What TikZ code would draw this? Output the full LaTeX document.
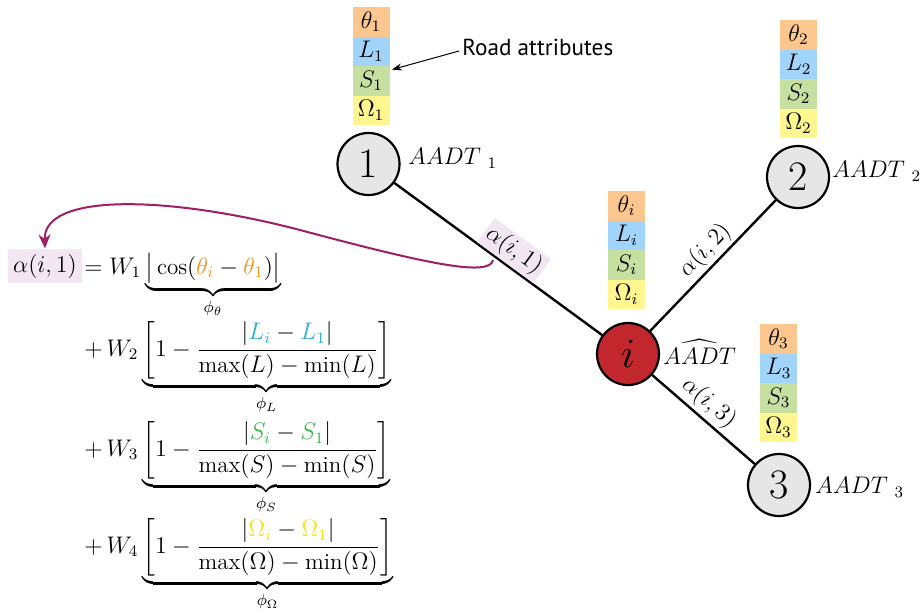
\documentclass[tikz,border=0pt]{standalone}
\usepackage{amsmath}
\usepackage{fontspec}
\newfontfamily\roadfont{PT Sans}
\usetikzlibrary{arrows.meta,calc}
\definecolor{cOr}{RGB}{251,199,142}
\definecolor{cBl}{RGB}{160,212,250}
\definecolor{cGr}{RGB}{197,224,160}
\definecolor{cYe}{RGB}{255,246,143}
\definecolor{tOr}{RGB}{247,148,29}
\definecolor{tBl}{RGB}{41,171,226}
\definecolor{tGr}{RGB}{57,181,74}
\definecolor{tYe}{RGB}{250,225,20}
\definecolor{cRed}{RGB}{193,39,45}
\definecolor{cGray}{RGB}{230,230,230}
\definecolor{cPur}{RGB}{158,31,99}
\definecolor{cPurL}{RGB}{242,230,242}
\newcommand\attrstack[4]{%
  \node[attr,fill=cOr] (t#1) at ({#2},{#3+14.75}) {$\theta_{#4}$};
  \node[attr,fill=cBl] (l#1) at ({#2},{#3+44.25}) {$L_{#4}$};
  \node[attr,fill=cGr] (s#1) at ({#2},{#3+73.75}) {$S_{#4}$};
  \node[attr,fill=cYe] (o#1) at ({#2},{#3+103.25}) {$\Omega_{#4}$};
}
\begin{document}
\begin{tikzpicture}[x=0.5pt,y=-0.5pt,font=\fontsize{11.5}{13.5}\selectfont,
  city/.style={circle,draw=black,line width=1.1pt,fill=cGray,minimum size=31pt,inner sep=0pt,font=\fontsize{21}{25}\selectfont},
  attr/.style={minimum width=18.5pt,minimum height=14.75pt,inner sep=0pt},
  road/.style={line width=1.2pt},
  elabel/.style={sloped,above,inner sep=1.5pt},
  eqline/.style={anchor=base west,inner sep=0pt}]
\useasboundingbox (0,0) rectangle (921,612);

% attribute stacks
\attrstack{1}{371}{7}{1}
\attrstack{2}{798.5}{20}{2}
\attrstack{i}{626.5}{191}{i}
\attrstack{3}{778.5}{324}{3}

% nodes
\node[city] (n1) at (368.5,164) {1};
\node[city] (n2) at (798,177) {2};
\node[city,fill=cRed] (ni) at (628,354) {$i$};
\node[city] (n3) at (779,485) {3};

\node[anchor=west,inner sep=0pt] (a1) at (408,158) {$AADT\;{}_1$};
\node[anchor=west,inner sep=0pt] (a2) at (832,171) {$AADT\;{}_2$};
\node[anchor=west,inner sep=0pt] (ai) at (663,352) {$\widehat{AADT}$};
\node[anchor=west,inner sep=0pt] (a3) at (815,487) {$AADT\;{}_3$};

% edges
\draw[road] (n1) -- node[elabel,pos=0.53,fill=cPurL] (e1) {$\alpha(i,1)$} (ni);
\draw[road] (ni) -- node[elabel,pos=0.53] (e2) {$\alpha(i,2)$} (n2);
\draw[road] (ni) -- node[elabel,pos=0.45] (e3) {$\alpha(i,3)$} (n3);

% road attributes
\node[anchor=west,inner sep=0pt,font=\roadfont\fontsize{11.6}{13.5}\selectfont] (road) at (462,47) {Road attributes};
\coordinate (roadtip) at ($(s1.north east)+(2,4)$);
\draw[-{Stealth[length=5pt,width=3.5pt]},line width=0.5pt] ($(road.west)+(-3,4)$) -- (roadtip);

% equation
\node[fill=cPurL,inner sep=2.6pt] (alpha) at (45,266) {$\alpha(i,1)$};
\node[eqline] (eq1) at (84,274) {$\displaystyle =W_1\underbrace{\big|\cos(\textcolor{tOr}{\theta_i}-\textcolor{tOr}{\theta_1})\big|}_{\phi_\theta}$};
\node[eqline] (eq2) at (84,356) {$\displaystyle +\,W_2\underbrace{\left[1-\frac{|\textcolor{tBl}{L_i}-\textcolor{tBl}{L_1}|}{\max(L)-\min(L)}\right]}_{\phi_L}$};
\node[eqline] (eq3) at (84,456) {$\displaystyle +\,W_3\underbrace{\left[1-\frac{|\textcolor{tGr}{S_i}-\textcolor{tGr}{S_1}|}{\max(S)-\min(S)}\right]}_{\phi_S}$};
\node[eqline] (eq4) at (84,553) {$\displaystyle +\,W_4\underbrace{\left[1-\frac{|\textcolor{tYe}{\Omega_i}-\textcolor{tYe}{\Omega_1}|}{\max(\Omega)-\min(\Omega)}\right]}_{\phi_\Omega}$};

% purple arrow
\coordinate (pstart) at (493,260);
\draw[cPur,line width=1pt,-{Stealth[length=7pt,width=6pt]}] (pstart) .. controls (490,278) and (420,262) .. (300,230) .. controls (170,196) and (43,192) .. (alpha.north);
\end{tikzpicture}
\end{document}
